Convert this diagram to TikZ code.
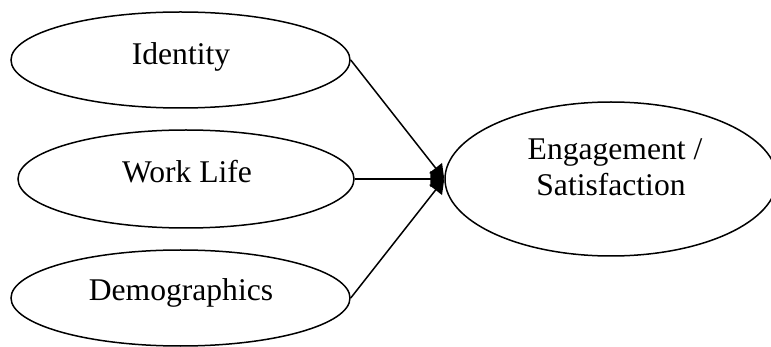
\documentclass[tikz,border=0pt]{standalone}
\usepackage{fontspec}
\setmainfont{Liberation Serif}
\usetikzlibrary{arrows.meta,shapes.geometric}
\begin{document}
\begin{tikzpicture}[x=1pt,y=-1pt,
  oval/.style={draw=black,line width=1.5pt,ellipse,inner sep=0pt},
  lbl/.style={font=\fontsize{31.6}{36}\selectfont,anchor=base,inner sep=0pt},
  link/.style={line width=1.5pt,-{Triangle[length=14pt,width=16pt]}}]
\useasboundingbox (0,0) rectangle (771,347);
\node[oval,minimum width=339pt,minimum height=96pt] (id) at (180.5,60) {};
\node[oval,minimum width=336pt,minimum height=98pt] (wl) at (186,179) {};
\node[oval,minimum width=339pt,minimum height=96pt] (dm) at (180.5,298) {};
\node[oval,minimum width=332pt,minimum height=154pt] (en) at (611,179) {};
\node[lbl] (idt) at (181,65) {Identity};
\node[lbl] (wlt) at (187,183) {Work Life};
\node[lbl] (dmt) at (181,301) {Demographics};
\node[lbl] (ent1) at (615,160) {Engagement /};
\node[lbl] (ent2) at (611,196) {Satisfaction};
\draw[link] (id.east) -- (en.west);
\draw[link] (wl.east) -- (en.west);
\draw[link] (dm.east) -- (en.west);
\end{tikzpicture}
\end{document}
